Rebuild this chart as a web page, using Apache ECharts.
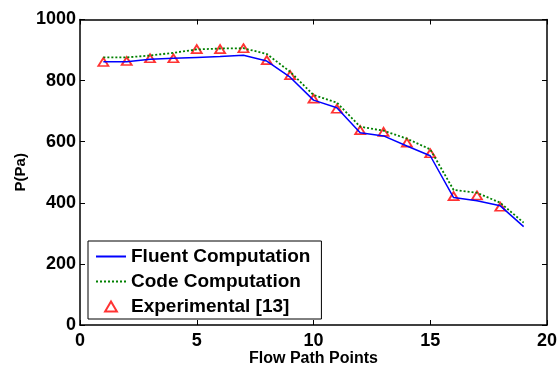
<!DOCTYPE html>
<html>
<head>
<meta charset="utf-8">
<script src="https://cdn.jsdelivr.net/npm/echarts@6/dist/echarts.min.js"></script>
<style>html,body{margin:0;padding:0;background:#fff;}#c{width:557px;height:367px;}</style>
</head>
<body>
<div id="c"></div>
<script>
var xPoints = [1,2,3,4,5,6,7,8,9,10,11,12,13,14,15,16,17,18,19];
var fluent = [862,862,870,873,876,879,883,864,811,736,711,629,619,586,554,417,407,390,322];
var code = [876,876,882,891,902,905,906,887,829,753,728,649,636,610,575,442,433,400,335];
var expX = [1,2,3,4,5,6,7,8,9,10,11,12,13,14,15,16,17,18];
var experimental = [861,864,873,873,903,903,906,867,818,741,708,638,632,597,562,422,424,387];
var xTicks = [0,5,10,15,20];
var yTicks = [0,200,400,600,800,1000];

function pairs(xs, ys){ return xs.map(function(x,i){ return [x, ys[i]]; }); }

var font = 'Liberation Sans, Arial, sans-serif';
var chart = echarts.init(document.getElementById('c'));
function axisCommon(){
  return {
    axisLine: {show: true, onZero: false, lineStyle: {color: '#000', width: 1.5}},
    axisTick: {show: true, inside: true, length: 5, lineStyle: {color: '#000', width: 1}},
    splitLine: {show: false}
  };
}
var labelStyle = {fontFamily: font, fontWeight: 'bold', fontSize: 18, color: '#000'};
chart.setOption({
  animation: false,
  backgroundColor: '#fff',
  grid: {left: 80, right: 10, top: 19.5, bottom: 42, containLabel: false, outerBoundsMode: 'none'},
  xAxis: [
    Object.assign({type: 'value', min: xTicks[0], max: xTicks[xTicks.length-1], interval: 5,
      name: 'Flow Path Points', nameLocation: 'middle', nameGap: 26, nameMoveOverlap: false,
      nameTextStyle: {fontFamily: font, fontWeight: 'bold', fontSize: 16, color: '#000'},
      axisLabel: Object.assign({margin: 7, formatter: function(v){ return String(v); }}, labelStyle)
    }, axisCommon()),
    Object.assign({type: 'value', position: 'top', min: 0, max: 20, interval: 5,
      axisLabel: {show: false}}, axisCommon())
  ],
  yAxis: [
    Object.assign({type: 'value', min: yTicks[0], max: yTicks[yTicks.length-1], interval: 200,
      name: 'P(Pa)', nameLocation: 'middle', nameGap: 52, nameMoveOverlap: false,
      nameTextStyle: {fontFamily: font, fontWeight: 'bold', fontSize: 15, color: '#000'},
      axisLabel: Object.assign({margin: 4, formatter: function(v){ return String(v); }}, labelStyle)
    }, axisCommon()),
    Object.assign({type: 'value', position: 'right', min: 0, max: 1000, interval: 200,
      axisLabel: {show: false}}, axisCommon())
  ],
  legend: {
    orient: 'vertical', left: 88, top: 241,
    backgroundColor: '#fff',
    borderColor: '#000', borderWidth: 1, borderRadius: 0,
    padding: [6, 11, 3, 7],
    itemWidth: 30, itemHeight: 10, itemGap: 6,
    textStyle: {fontFamily: font, fontWeight: 'bold', fontSize: 19, color: '#000', lineHeight: 19},
    data: [
      {name: 'Fluent Computation', itemStyle: {opacity: 0}},
      {name: 'Code Computation', itemStyle: {opacity: 0}},
      {name: 'Experimental [13]', icon: 'path://M5,0L10,8.5L0,8.5Z'}
    ]
  },
  series: [
    {name: 'Fluent Computation', type: 'line', data: pairs(xPoints, fluent), symbol: 'none',
      lineStyle: {color: '#0000ff', width: 1.5}, itemStyle: {color: '#0000ff'}},
    {name: 'Code Computation', type: 'line', data: pairs(xPoints, code), symbol: 'none',
      lineStyle: {color: '#008000', width: 1.8, type: [2, 2]}, itemStyle: {color: '#008000'}},
    {name: 'Experimental [13]', type: 'scatter', data: pairs(expX, experimental), symbol: 'triangle', symbolSize: [10, 8],
      itemStyle: {color: '#fff', borderColor: '#ff0000', borderWidth: 1.8}}
  ]
});
</script>
</body>
</html>
